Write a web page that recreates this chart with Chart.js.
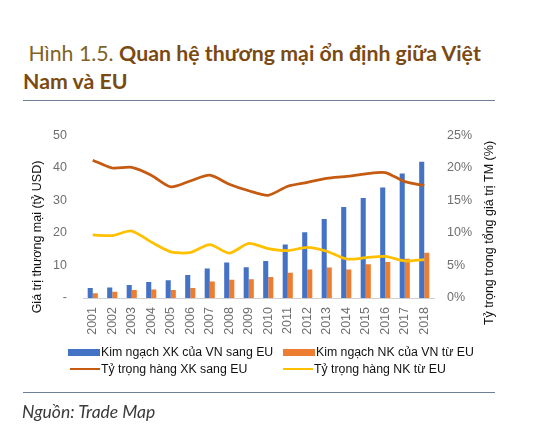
<!DOCTYPE html>
<html>
<head>
<meta charset="utf-8">
<script src="https://cdn.jsdelivr.net/npm/chart.js@4.4.1/dist/chart.umd.min.js"></script>
<style>
  html, body { margin: 0; padding: 0; background: #fff; }
  body { width: 534px; height: 439px; position: relative; overflow: hidden; }
  #title { position: absolute; left: 23px; top: 39px; width: 510px; white-space: nowrap; font-family: Lato, "Open Sans", sans-serif; font-size: 21.3px; line-height: 28px; color: #7B4A12; font-weight: bold; }
  #title .pre { font-weight: normal; color: #806326; }
  .rule { position: absolute; left: 23px; width: 472px; height: 0; border-top: 1.5px solid #6d7f99; }
  #wrap { position: absolute; left: 0; top: 112px; width: 534px; height: 232px; }
  #legend { position: absolute; left: 0; top: 0; width: 534px; height: 439px; pointer-events: none; font-family: "Liberation Sans", Arial, sans-serif; font-size: 12.3px; color: #111; }
  .lg { position: absolute; white-space: nowrap; }
  .sw { position: absolute; }
  #source { position: absolute; left: 22px; top: 401px; font-family: Lato, "Open Sans", sans-serif; font-style: italic; font-size: 17.5px; color: #3a3a3a; }
</style>
</head>
<body>
<div id="title"><span class="pre">&nbsp;Hình 1.5. </span>Quan hệ thương mại ổn định giữa Việt<br>Nam và EU</div>
<div class="rule" style="top:100px"></div>
<div id="wrap"><canvas id="c"></canvas></div>
<div id="legend"></div>
<div class="rule" style="top:391.5px"></div>
<div id="source">Nguồn: Trade Map</div>
<script>
const years = ['2001','2002','2003','2004','2005','2006','2007','2008','2009','2010','2011','2012','2013','2014','2015','2016','2017','2018'];
const exportValues = [3.1, 3.2, 4.0, 4.9, 5.5, 7.1, 9.1, 10.9, 9.5, 11.4, 16.5, 20.2, 24.3, 28.0, 30.8, 34.0, 38.3, 41.9];
const importValues = [1.5, 1.9, 2.5, 2.6, 2.5, 3.1, 5.1, 5.6, 5.8, 6.5, 7.8, 8.8, 9.4, 8.8, 10.4, 11.1, 12.1, 13.9];
const exportShare = [21.2, 20.0, 20.1, 18.9, 17.1, 18.0, 18.9, 17.5, 16.5, 15.8, 17.2, 17.8, 18.4, 18.7, 19.1, 19.3, 17.9, 17.3];
const importShare = [9.7, 9.6, 10.3, 8.6, 7.1, 7.0, 8.2, 6.9, 8.4, 7.6, 7.3, 7.8, 7.2, 6.0, 6.2, 6.4, 5.7, 5.9];
const leftTicks = ['-', '10', '20', '30', '40', '50'];
const rightTicks = ['0%', '5%', '10%', '15%', '20%', '25%'];
const seriesNames = ['Kim ngạch XK của VN sang EU', 'Kim ngạch NK của VN từ EU', 'Tỷ trọng hàng XK sang EU', 'Tỷ trọng hàng NK từ EU'];
const leftTitle = 'Giá trị thương mại (tỷ USD)';
const rightTitle = 'Tỷ trọng trong tổng giá trị TM (%)';

const colors = ['#4472C4', '#ED7D31', '#C55A11', '#FFC000'];
const tickFont = { family: '"Liberation Sans", Arial, sans-serif', size: 12.5 };
const tickColor = '#6f6f6f';

const axisTitles = {
  id: 'axisTitles',
  afterDraw(chart) {
    const ctx = chart.ctx;
    const cy = chart.chartArea.bottom - 63;
    [[leftTitle, 38, cy + 2], [rightTitle, 490, cy - 2]].forEach(([txt, x, y]) => {
      ctx.save();
      ctx.fillStyle = '#111';
      ctx.font = '12.5px "Liberation Sans", Arial, sans-serif';
      ctx.textAlign = 'center';
      ctx.textBaseline = 'middle';
      ctx.translate(x, y);
      ctx.rotate(-Math.PI / 2);
      ctx.fillText(txt, 0, 0);
      ctx.restore();
    });
  }
};

const chart = new Chart(document.getElementById('c'), {
  data: {
    labels: years,
    datasets: [
      { type: 'bar', label: seriesNames[0], data: exportValues, backgroundColor: colors[0], yAxisID: 'y', order: 2, categoryPercentage: 0.52, barPercentage: 1.0 },
      { type: 'bar', label: seriesNames[1], data: importValues, backgroundColor: colors[1], yAxisID: 'y', order: 2, categoryPercentage: 0.52, barPercentage: 1.0 },
      { type: 'line', label: seriesNames[2], data: exportShare, borderColor: colors[2], backgroundColor: colors[2], borderWidth: 2.75, pointRadius: 0, tension: 0.25, yAxisID: 'y1', order: 1 },
      { type: 'line', label: seriesNames[3], data: importShare, borderColor: colors[3], backgroundColor: colors[3], borderWidth: 2.75, pointRadius: 0, tension: 0.25, yAxisID: 'y1', order: 1 }
    ]
  },
  options: {
    responsive: true,
    maintainAspectRatio: false,
    animation: false,
    layout: { padding: { top: 20, left: 0, right: 0, bottom: 0 } },
    plugins: { legend: { display: false }, tooltip: { enabled: false } },
    scales: {
      x: {
        grid: { display: false, drawTicks: false },
        border: { display: true, color: '#d0d0d0', width: 1 },
        ticks: { font: tickFont, color: tickColor, minRotation: 90, maxRotation: 90, padding: 9, autoSkip: false },
        afterFit(s) { s.height = 46; }
      },
      y: {
        position: 'left', min: 0, max: 50,
        grid: { display: false, drawTicks: false },
        border: { display: false },
        ticks: { stepSize: 10, font: tickFont, color: tickColor, padding: 16, callback: (v, i) => leftTicks[i] },
        afterFit(s) { s.width = 83; }
      },
      y1: {
        position: 'right', min: 0, max: 25,
        grid: { display: false, drawTicks: false },
        border: { display: false },
        ticks: { stepSize: 5, font: tickFont, color: tickColor, padding: 13, callback: (v, i) => rightTicks[i] },
        afterFit(s) { s.width = 100; }
      }
    }
  },
  plugins: [axisTitles]
});

// Legend (two aligned columns, built from the chart's datasets)
const lg = document.getElementById('legend');
const slots = [
  { x: 68, y: 352, kind: 'box' }, { x: 283, y: 352, kind: 'box' },
  { x: 70, y: 368.5, kind: 'line' }, { x: 283, y: 368.5, kind: 'line' }
];
chart.data.datasets.forEach((ds, i) => {
  const s = slots[i];
  const sw = document.createElement('div');
  sw.className = 'sw';
  if (s.kind === 'box') {
    sw.style.cssText = `left:${s.x}px;top:${s.y - 3.5}px;width:32px;height:7px;background:${ds.backgroundColor}`;
  } else {
    sw.style.cssText = `left:${s.x}px;top:${s.y - 1}px;width:30px;height:2.2px;background:${ds.borderColor}`;
  }
  lg.appendChild(sw);
  const t = document.createElement('div');
  t.className = 'lg';
  t.textContent = ds.label;
  t.style.left = (s.x + (s.kind === 'box' ? 33 : 31)) + 'px';
  t.style.top = (s.y - 8) + 'px';
  t.style.lineHeight = '16px';
  lg.appendChild(t);
});
</script>
</body>
</html>
